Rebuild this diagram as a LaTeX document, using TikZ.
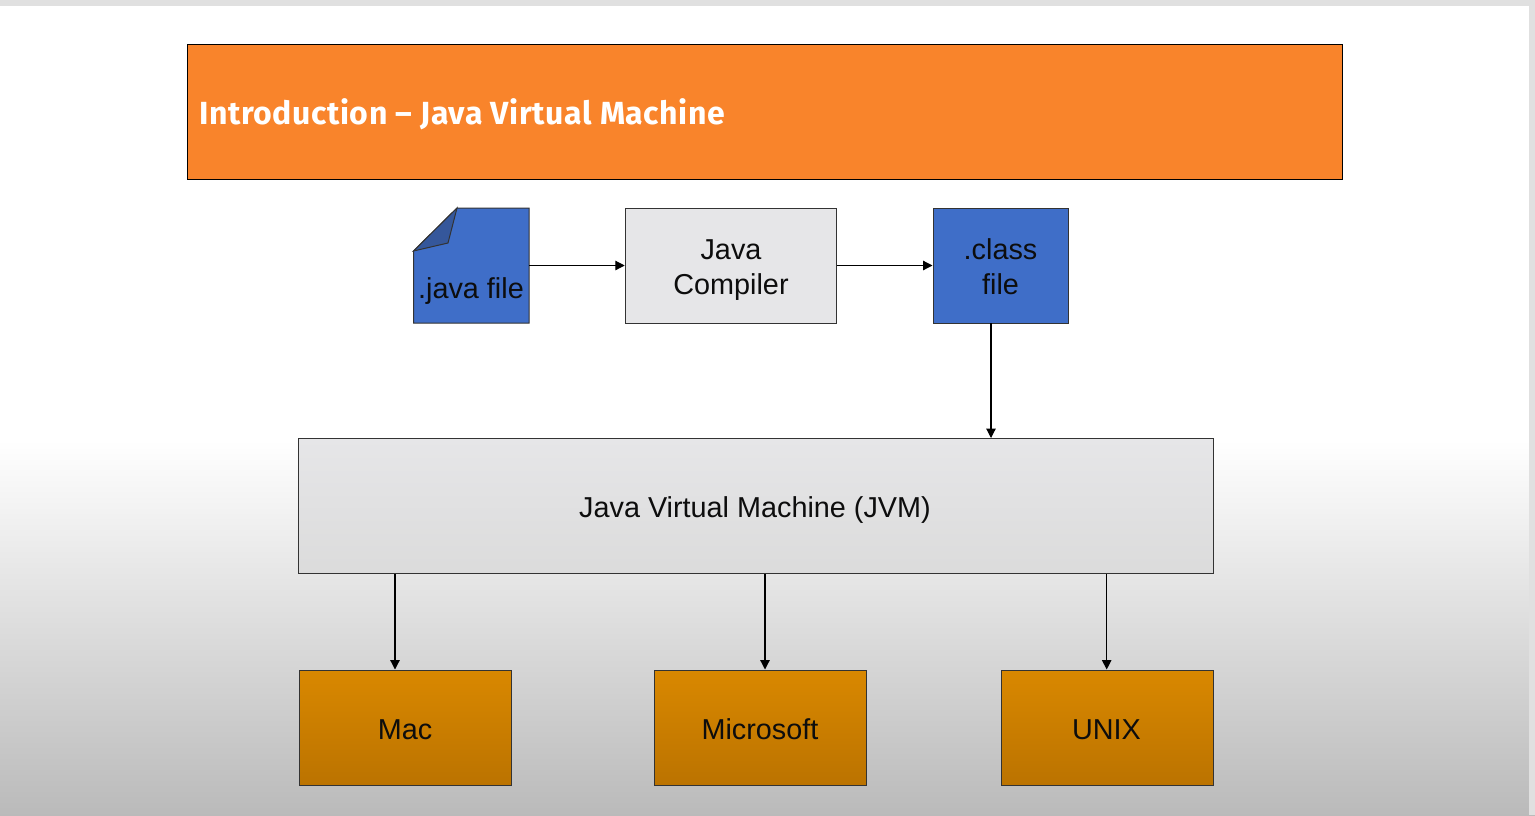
\documentclass[tikz,border=0pt]{standalone}
\usepackage{fontspec}
\setmainfont{Liberation Sans}
\newfontfamily\titlefont[LetterSpace=1.8]{Fira Sans}
\usetikzlibrary{arrows.meta}
\definecolor{titleorange}{HTML}{F9842B}
\definecolor{fileblue}{HTML}{3F6EC8}
\definecolor{foldblue}{HTML}{35579B}
\definecolor{paleGrey}{HTML}{E6E6E8}
\definecolor{osTop}{HTML}{D98800}
\definecolor{osBot}{HTML}{BB7300}
\pgfdeclareverticalshading{bgfade}{100bp}{color(0bp)=(black!27); color(25bp)=(black!27); color(75bp)=(white); color(100bp)=(white)}
\pgfdeclareverticalshading{jvmfade}{100bp}{color(0bp)=(black!14); color(25bp)=(black!14); color(75bp)=(paleGrey); color(100bp)=(paleGrey)}
\pgfdeclareverticalshading{osfade}{100bp}{color(0bp)=(osBot); color(25bp)=(osBot); color(75bp)=(osTop); color(100bp)=(osTop)}
\tikzset{
  boxbase/.style={draw=black!80,line width=1pt,inner sep=0pt},
  greybox/.style={boxbase,fill=paleGrey},
  bluebox/.style={boxbase,fill=fileblue},
  osbox/.style={boxbase,shading=osfade,shading angle=0,minimum width=212pt,minimum height=115pt},
  boxtext/.style={inner sep=0pt,align=center,text=black!95,font=\fontsize{28.8}{35}\selectfont},
  link/.style={draw=black,line width=1.2pt,-{Triangle[length=9.5pt,width=9.5pt]}},
}
\begin{document}
\begin{tikzpicture}[x=1pt,y=-1pt]
\useasboundingbox (0,0) rectangle (1535,815);
% background
\fill[white] (0,0) rectangle (1535,815);
\fill[shading=bgfade,shading angle=0] (0,440) rectangle (1535,815);
\fill[black!12] (0,0) rectangle (1535,6);
\fill[black!12] (1529,0) rectangle (1535,815);
% title
\node[draw=black,line width=1.1pt,fill=titleorange,minimum width=1155pt,minimum height=135pt,inner sep=0pt] (title) at (765,112) {};
\node[anchor=base west,text=white,inner sep=0pt,font=\titlefont\bfseries\fontsize{32}{38}\selectfont] (titletext) at (199,124) {Introduction – Java Virtual Machine};
% java file
\fill[fileblue,draw=black!80,line width=1pt] (457,208) -- (529,208) -- (529,323) -- (413.5,323) -- (413.5,251) -- cycle;
\fill[foldblue,draw=black!80,line width=1pt] (457,208) -- (448,243) -- (413.5,251) -- cycle;
\node[minimum width=116pt,minimum height=115pt,inner sep=0pt] (javafile) at (471,265.5) {};
\node[boxtext,anchor=base] (javalabel) at (471,298) {.java file};
% compiler and class
\node[greybox,minimum width=211.5pt,minimum height=115pt] (compiler) at (731,265.5) {};
\node[boxtext] (compilerlabel) at (731,270) {Java\\Compiler};
\node[bluebox,minimum width=135pt,minimum height=115pt] (classfile) at (1000.5,265.5) {};
\node[boxtext] (classlabel) at (1000.5,266.7) {.class\\file};
% JVM
\node[boxbase,shading=jvmfade,shading angle=0,minimum width=915pt,minimum height=135pt] (jvm) at (755.5,506) {};
\node[boxtext,anchor=base] (jvmlabel) at (755,517) {Java Virtual Machine (JVM)};
% OS
\node[osbox] (mac) at (405,727.5) {};
\node[boxtext,anchor=base] (maclabel) at (405,739) {Mac};
\node[osbox] (ms) at (760,727.5) {};
\node[boxtext,anchor=base] (mslabel) at (760,739) {Microsoft};
\node[osbox] (unix) at (1107,727.5) {};
\node[boxtext,anchor=base] (unixlabel) at (1106.5,739) {UNIX};
% connectors
\draw[link] (javafile.east) -- (compiler.west);
\draw[link] (compiler.east) -- (classfile.west);
\coordinate (c1) at (991,323);
\draw[link] (c1) -- (c1 |- jvm.north);
\coordinate (m1) at (395,574);
\coordinate (m2) at (765,574);
\coordinate (m3) at (1106.7,574);
\draw[link] (m1) -- (m1 |- mac.north);
\draw[link] (m2) -- (m2 |- ms.north);
\draw[link] (m3) -- (m3 |- unix.north);
\end{tikzpicture}
\end{document}
